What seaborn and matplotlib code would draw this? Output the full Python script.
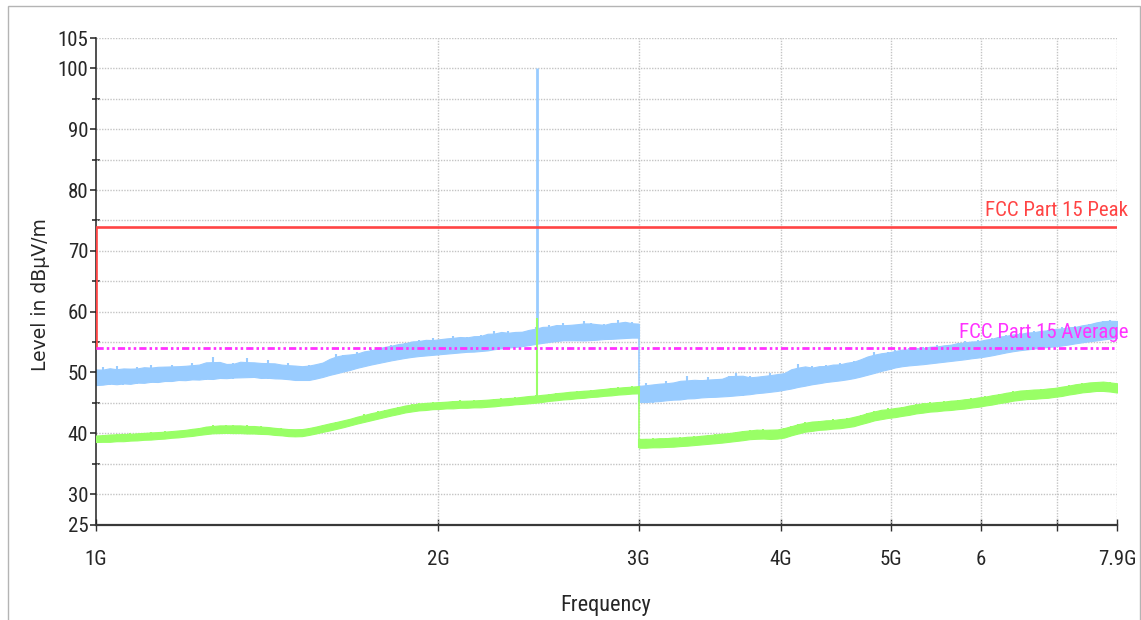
import numpy as np
import matplotlib
matplotlib.use("Agg")
import matplotlib.pyplot as plt
from matplotlib import font_manager as fm
from matplotlib.patches import Rectangle
from matplotlib.ticker import FixedLocator, NullFormatter
import seaborn as sns

# ---- scan data (levels in dBuV/m) ----
# Sweep A: 1 GHz -> 3 GHz, Sweep B: 3 GHz -> 7.9 GHz (log-spaced sweep points)
sweep_a_start, sweep_a_stop = 1.0, 3.0
sweep_b_start, sweep_b_stop = 3.0, 7.9

# Peak detector trace, sweep A (min / max of the noise in each display bin)
peak_a_lo = [47.8, 48.2, 48.0, 48.3, 47.9, 48.4, 48.1, 48.5, 48.3, 48.6,
             48.4, 48.8, 48.6, 48.9, 48.7, 49.0, 48.8, 49.1, 48.9, 49.3,
             49.0, 49.2, 49.4, 49.1, 49.3, 48.9, 49.2, 49.0, 48.8, 48.9,
             48.6, 48.8, 48.9, 49.3, 49.6, 49.9, 50.1, 50.5, 50.7, 51.1,
             51.3, 51.5, 51.8, 52.0, 52.2, 52.4, 52.6, 52.7, 52.8, 52.9,
             53.0, 53.1, 53.2, 53.3, 53.4, 53.5, 53.4, 53.7, 53.8, 54.0,
             54.1, 54.2, 54.3, 54.5, 54.7, 54.9, 55.0, 55.2, 55.3, 55.4,
             55.2, 55.3, 55.3, 55.4, 55.5, 55.6, 55.5, 55.7, 55.8, 55.7]
peak_a_hi = [50.3, 50.9, 50.2, 51.0, 50.4, 50.6, 50.9, 50.5, 51.2, 50.7,
             50.9, 51.3, 50.8, 51.0, 51.5, 51.1, 51.3, 52.6, 51.2, 51.4,
             51.6, 51.3, 52.4, 51.4, 51.2, 52.1, 51.3, 51.1, 51.5, 51.0,
             50.9, 51.2, 51.3, 51.6, 52.0, 53.1, 52.8, 52.7, 53.4, 53.2,
             53.8, 53.9, 54.1, 54.6, 54.5, 54.9, 55.0, 55.4, 55.1, 55.6,
             55.3, 55.5, 56.0, 55.6, 55.9, 55.8, 56.2, 56.0, 56.9, 56.3,
             56.8, 56.5, 56.7, 56.9, 57.4, 57.3, 57.8, 57.5, 58.1, 57.7,
             57.7, 58.4, 58.1, 57.7, 58.0, 57.8, 58.6, 58.1, 58.3, 57.9]

# Peak detector trace, sweep B
peak_b_lo = [45.1, 45.3, 45.0, 45.4, 45.5, 45.4, 45.7, 45.6, 45.9, 45.8,
             46.0, 46.1, 45.9, 46.2, 46.3, 46.2, 46.5, 46.6, 46.7, 46.8,
             47.0, 47.1, 47.4, 47.6, 47.9, 48.0, 48.3, 48.4, 48.6, 48.7,
             48.8, 49.1, 49.3, 49.6, 50.0, 50.2, 50.6, 50.8, 51.1, 51.2,
             51.2, 51.4, 51.5, 51.6, 51.8, 51.9, 52.0, 52.2, 52.3, 52.5,
             52.6, 52.8, 53.1, 53.3, 53.5, 53.7, 53.8, 53.9, 54.1, 54.2,
             54.3, 54.4, 54.6, 54.8, 55.0, 55.1, 55.3, 55.4, 55.6, 55.7]
peak_b_hi = [47.6, 48.2, 47.9, 48.0, 48.6, 48.1, 48.4, 49.4, 48.3, 48.7,
             49.2, 48.6, 48.9, 49.4, 49.9, 49.0, 49.5, 49.1, 49.3, 49.9,
             49.5, 49.8, 50.4, 51.4, 50.6, 51.0, 50.8, 51.3, 51.1, 51.5,
             51.4, 51.9, 52.0, 52.6, 53.3, 52.9, 53.3, 53.7, 53.6, 54.0,
             53.8, 54.2, 54.0, 54.5, 54.3, 54.6, 54.8, 55.1, 54.9, 55.3,
             55.2, 55.7, 55.8, 56.2, 56.1, 56.5, 56.4, 56.8, 56.7, 57.0,
             57.1, 57.4, 57.2, 57.7, 57.6, 58.0, 58.2, 58.5, 58.6, 58.4]

# Average detector trace, sweep A
avg_a_lo = [38.6, 38.5, 38.7, 38.6, 38.8, 38.7, 38.9, 38.9, 39.0, 39.0,
            39.2, 39.2, 39.4, 39.4, 39.6, 39.7, 39.9, 40.0, 40.1, 40.0,
            40.1, 40.0, 40.0, 39.9, 40.0, 39.8, 39.8, 39.6, 39.6, 39.4,
            39.5, 39.7, 40.0, 40.2, 40.5, 40.7, 41.0, 41.3, 41.6, 41.9,
            42.1, 42.4, 42.7, 42.9, 43.2, 43.4, 43.7, 43.7, 43.9, 43.9,
            44.1, 44.0, 44.2, 44.1, 44.3, 44.2, 44.3, 44.3, 44.5, 44.5,
            44.7, 44.7, 44.9, 44.9, 45.0, 45.2, 45.3, 45.5, 45.5, 45.7,
            45.7, 45.9, 45.9, 46.1, 46.1, 46.3, 46.3, 46.5, 46.5, 46.6]
avg_a_hi = [39.6, 39.7, 39.8, 39.9, 39.8, 40.0, 39.9, 40.1, 40.2, 40.1,
            40.3, 40.4, 40.4, 40.6, 40.7, 40.9, 41.0, 41.4, 41.2, 41.3,
            41.4, 41.2, 41.3, 41.1, 41.2, 41.0, 40.9, 40.8, 40.7, 40.6,
            40.7, 40.8, 41.1, 41.4, 41.6, 41.9, 42.1, 42.4, 42.7, 43.1,
            43.2, 43.6, 43.8, 44.0, 44.4, 44.5, 44.8, 44.9, 45.0, 45.1,
            45.1, 45.2, 45.3, 45.4, 45.3, 45.4, 45.5, 45.5, 45.6, 45.8,
            45.7, 45.9, 46.0, 46.1, 46.3, 46.2, 46.5, 46.6, 46.7, 46.8,
            47.0, 46.9, 47.1, 47.2, 47.3, 47.4, 47.6, 47.5, 47.7, 47.8]

# Average detector trace, sweep B
avg_b_lo = [37.6, 37.7, 37.6, 37.8, 37.7, 37.8, 37.9, 38.0, 38.0, 38.2,
            38.3, 38.3, 38.5, 38.6, 38.7, 38.9, 39.0, 39.2, 39.1, 39.1,
            39.0, 39.3, 39.6, 40.1, 40.2, 40.5, 40.5, 40.7, 40.7, 40.9,
            40.9, 41.2, 41.4, 41.9, 42.1, 42.4, 42.5, 42.7, 42.8, 43.1,
            43.2, 43.5, 43.5, 43.7, 43.7, 43.9, 43.9, 44.1, 44.2, 44.4,
            44.5, 44.8, 44.9, 45.2, 45.3, 45.6, 45.6, 45.7, 45.7, 45.9,
            45.9, 46.2, 46.3, 46.6, 46.7, 46.9, 46.9, 47.1, 46.9, 46.6]
avg_b_hi = [39.1, 39.0, 39.2, 39.1, 39.3, 39.2, 39.4, 39.3, 39.6, 39.5,
            39.7, 39.9, 39.8, 40.1, 40.2, 40.3, 40.6, 40.5, 40.7, 40.5,
            40.6, 40.8, 41.2, 41.5, 41.8, 41.9, 42.1, 42.0, 42.3, 42.2,
            42.5, 42.6, 43.0, 43.3, 43.7, 43.8, 44.1, 44.0, 44.4, 44.5,
            44.8, 44.9, 45.1, 45.0, 45.3, 45.3, 45.5, 45.5, 45.8, 45.8,
            46.1, 46.2, 46.5, 46.6, 46.9, 47.0, 47.2, 47.1, 47.3, 47.3,
            47.5, 47.6, 47.9, 48.0, 48.3, 48.3, 48.5, 48.5, 48.5, 48.1]

# Carrier at 2.44 GHz
carrier_freq = [2.44]
carrier_peak = [100.0]
carrier_peak_base = [55.8]
carrier_avg = [59.0]
carrier_avg_base = [45.6]

# FCC Part 15 limit lines
peak_limit_freq = [1.0, 1.0, 7.9]
peak_limit_level = [54.0, 74.0, 74.0]
avg_limit_freq = [1.0, 7.9]
avg_limit_level = [54.0, 54.0]

# Axis ticks
y_major = [25, 30, 40, 50, 60, 70, 80, 90, 100, 105]
y_minor = [35, 45, 55, 65, 75, 85, 95]
y_grid = [30, 35, 40, 45, 50, 55, 60, 65, 70, 75, 80, 85, 90, 95, 100, 105]
x_ticks = [1, 2, 3, 4, 5, 6, 7, 7.9]
x_labels = ["1G", "2G", "3G", "4G", "5G", "6", "", "7.9G"]

# ---- styling ----
sns.set_style("white")

# prefer a narrow sans face for the instrument-style labels
_installed = {f.name for f in fm.fontManager.ttflist}
_narrow = [n for n in ("Liberation Sans Narrow", "Roboto Condensed",
                       "Open Sans Condensed", "Noto Sans Condensed",
                       "DejaVu Sans Condensed", "Arial Narrow")
           if n in _installed]
_narrow += sorted(n for n in _installed
                  if ("Narrow" in n or "Condensed" in n) and n not in _narrow)
if _narrow:
    NARROW = [_narrow[0], "Liberation Sans", "DejaVu Sans"]
    TICK_SIZE, LABEL_SIZE, NOTE_SIZE = 15, 16, 15
else:
    NARROW = ["Liberation Sans", "DejaVu Sans"]
    TICK_SIZE, LABEL_SIZE, NOTE_SIZE = 12.5, 13.5, 12
plt.rcParams["font.family"] = NARROW

PEAK_COLOR = "#99ccff"
AVG_COLOR = "#99ff66"
RED = "#ff4444"
MAGENTA = "#ff33ff"
GRID = "#c4c4c4"

fig = plt.figure(figsize=(11.41, 6.20), dpi=100)
ax = fig.add_axes([0.0841, 0.154, 0.8949, 0.7847])

# outer frame of the report page
fig.patches.append(Rectangle((8 / 1141, -0.05), 1132 / 1141, 1.05 - 6 / 620,
                             transform=fig.transFigure, fill=False,
                             edgecolor="#b4b4b4", linewidth=1.0, zorder=0))

ax.set_xscale("log")
ax.set_xlim(1.0, 7.9)
ax.set_ylim(25, 105)

# dotted grid
for g in y_grid:
    ax.axhline(g, color=GRID, linestyle=(0, (1, 1)), linewidth=1.0, zorder=1)
for g in x_ticks[1:]:
    ax.axvline(g, color=GRID, linestyle=(0, (1, 1)), linewidth=1.0, zorder=1)


def draw_trace(start, stop, lo, hi, color, z):
    """Noisy detector trace: a solid band through the local mean of the bin
    extremes plus each bin's min/max excursion as a thin vertical stroke."""
    lo = np.asarray(lo)
    hi = np.asarray(hi)
    f = np.geomspace(start, stop, len(lo))
    pad_hi = np.concatenate([hi[:1], hi, hi[-1:]])
    pad_lo = np.concatenate([lo[:1], lo, lo[-1:]])
    core_hi = (pad_hi[:-2] + pad_hi[1:-1] + pad_hi[2:]) / 3.0
    core_lo = (pad_lo[:-2] + pad_lo[1:-1] + pad_lo[2:]) / 3.0
    ax.fill_between(f, core_lo, core_hi, color=color, linewidth=0.8,
                    edgecolor=color, zorder=z)
    ax.vlines(f, lo, hi, color=color, linewidth=1.5, zorder=z)
    return f


draw_trace(sweep_a_start, sweep_a_stop, peak_a_lo, peak_a_hi, PEAK_COLOR, 2)
draw_trace(sweep_b_start, sweep_b_stop, peak_b_lo, peak_b_hi, PEAK_COLOR, 2)
ax.vlines([sweep_a_stop], peak_b_hi[0], peak_a_lo[-1], color=PEAK_COLOR,
          linewidth=1.2, zorder=2)
ax.vlines(carrier_freq, carrier_peak_base, carrier_peak, color=PEAK_COLOR,
          linewidth=2.0, zorder=2)

draw_trace(sweep_a_start, sweep_a_stop, avg_a_lo, avg_a_hi, AVG_COLOR, 3)
draw_trace(sweep_b_start, sweep_b_stop, avg_b_lo, avg_b_hi, AVG_COLOR, 3)
ax.vlines([sweep_a_stop], avg_b_hi[0], avg_a_lo[-1], color=AVG_COLOR,
          linewidth=1.2, zorder=3)
ax.vlines(carrier_freq, carrier_avg_base, carrier_avg, color=AVG_COLOR,
          linewidth=1.5, zorder=3)

# limit lines
sns.lineplot(x=peak_limit_freq, y=peak_limit_level, sort=False, estimator=None,
             color=RED, linewidth=1.9, ax=ax, zorder=5)
sns.lineplot(x=avg_limit_freq, y=avg_limit_level, sort=False, estimator=None,
             color=MAGENTA, linewidth=2.0, ax=ax, zorder=5,
             linestyle=(0, (2.6, 1.1, 0.9, 1.1, 0.9, 1.1)))

ax.text(7.9 * 1.0225, peak_limit_level[-1] + 1.0, "FCC Part 15 Peak",
        color=RED, fontsize=NOTE_SIZE, ha="right", va="bottom", zorder=6,
        clip_on=False)
ax.text(7.9 * 1.0225, avg_limit_level[-1] + 1.0, "FCC Part 15 Average",
        color=MAGENTA, fontsize=NOTE_SIZE, ha="right", va="bottom", zorder=6,
        clip_on=False)

# axes and ticks
for side in ("top", "right"):
    ax.spines[side].set_visible(False)
ax.spines["left"].set_color("#202020")
ax.spines["left"].set_linewidth(1.1)
ax.spines["bottom"].set_color("#383838")
ax.spines["bottom"].set_linewidth(1.6)

ax.yaxis.set_major_locator(FixedLocator(y_major))
ax.set_yticklabels([str(v) for v in y_major])
ax.yaxis.set_minor_locator(FixedLocator(y_minor))
ax.yaxis.set_minor_formatter(NullFormatter())
ax.tick_params(axis="y", which="major", direction="out", length=4, width=1.1,
               color="#202020", pad=1.5, labelsize=TICK_SIZE, left=True)
ax.tick_params(axis="y", which="minor", direction="inout", length=6, width=1.1,
               color="#202020", left=True)

ax.xaxis.set_major_locator(FixedLocator(x_ticks))
ax.xaxis.set_minor_locator(FixedLocator([]))
ax.xaxis.set_minor_formatter(NullFormatter())
ax.set_xticklabels(x_labels)
ax.tick_params(axis="x", which="major", direction="inout", length=9, width=1.0,
               color="#303030", pad=14, labelsize=TICK_SIZE, bottom=True)

fig.text(41 / 1141, 1 - 295 / 620, "Level in dB\u00b5V/m", rotation=90,
         ha="center", va="center", fontsize=13.5, family=["DejaVu Sans"])
fig.text(606 / 1141, 1 - 606 / 620, "Frequency", ha="center", va="center",
         fontsize=LABEL_SIZE)

fig.savefig("out.png", dpi=100)
